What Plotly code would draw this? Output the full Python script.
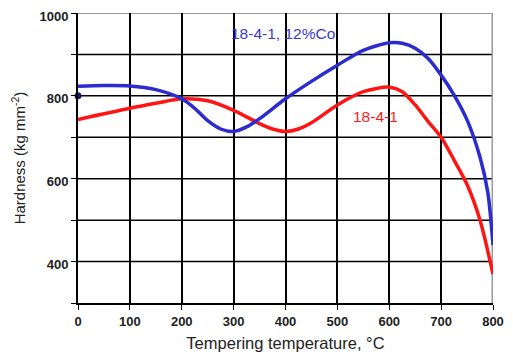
import plotly.graph_objects as go

temp_co = [0, 50, 100, 150, 200, 225, 250, 275, 300, 325, 350, 400, 450, 500, 550, 600, 625, 650, 675, 700, 725, 750, 775, 790, 800]
hard_co = [823, 825, 824, 815, 793, 770, 740, 720, 714, 725, 745, 793, 835, 874, 910, 928, 927, 915, 890, 850, 802, 742, 652, 567, 440]

temp_std = [0, 100, 150, 200, 250, 300, 350, 375, 400, 425, 450, 500, 550, 600, 625, 650, 675, 700, 725, 750, 775, 800]
hard_std = [743, 770, 782, 793, 788, 765, 733, 720, 714, 720, 735, 778, 810, 821, 810, 778, 738, 700, 645, 586, 500, 370]

x_ticks = [0, 100, 200, 300, 400, 500, 600, 700, 800]
y_ticks = [400, 600, 800, 1000]

FONT = "Liberation Sans, Arial, sans-serif"

fig = go.Figure()
fig.add_trace(go.Scatter(x=temp_std, y=hard_std, mode="lines", line=dict(color="#ff1414", width=3.5, shape="spline", smoothing=0.8), showlegend=False, cliponaxis=False))
fig.add_trace(go.Scatter(x=temp_co, y=hard_co, mode="lines", line=dict(color="#2b2bd0", width=3.5, shape="spline", smoothing=0.8), showlegend=False, cliponaxis=False))
fig.add_trace(go.Scatter(x=[0], y=[800], mode="markers", marker=dict(color="#1a1a70", size=7), showlegend=False, cliponaxis=False))

fig.add_annotation(x=395, y=951, text="18-4-1, 12%Co", showarrow=False, font=dict(family=FONT, size=15.5, color="#3a3ad0"))
fig.add_annotation(x=574, y=750, text="18-4-1", showarrow=False, font=dict(family=FONT, size=15.5, color="#ff1a1a"))

fig.update_layout(
    width=513, height=364,
    margin=dict(l=70, r=28, t=5, b=69, autoexpand=False),
    plot_bgcolor="white", paper_bgcolor="white",
    font=dict(family=FONT, color="#222"),
    xaxis=dict(range=[0, 800], tickvals=x_ticks, showgrid=True, gridcolor="black", gridwidth=1.5,
               showline=True, linecolor="black", linewidth=2, mirror=False, automargin=False,
               ticks="outside", ticklen=5, tickcolor="black", ticklabeloverflow="allow",
               tickfont=dict(family=FONT, size=13, color="#222", weight="bold"),
               title=dict(text="Tempering temperature, °C", font=dict(family=FONT, size=16.5, color="#222"), standoff=10),
               zeroline=False),
    yaxis=dict(range=[300, 1000], tickvals=y_ticks, showgrid=False, automargin=False,
               showline=True, linecolor="black", linewidth=2, ticklabeloverflow="allow",
               ticks="outside", ticklen=5, tickcolor="black", ticklabelshift=3,
               tickfont=dict(family=FONT, size=13, color="#222", weight="bold"),
               title=dict(text="Hardness (kg mm<sup>-2</sup>)", font=dict(family=FONT, size=15, color="#222"), standoff=10),
               zeroline=False),
)
for v in [400, 500, 600, 700, 800, 900]:
    fig.add_hline(y=v, line=dict(color="black", width=1.5), layer="below")
fig.add_hline(y=1000, line=dict(color="#999", width=2), layer="below")
fig.add_vline(x=800, line=dict(color="#999", width=3), layer="below")
fig.update_yaxes(minor=dict(tickvals=[300, 500, 700, 900], ticks="outside", ticklen=5, tickcolor="black"))

fig.write_html("out.html")
